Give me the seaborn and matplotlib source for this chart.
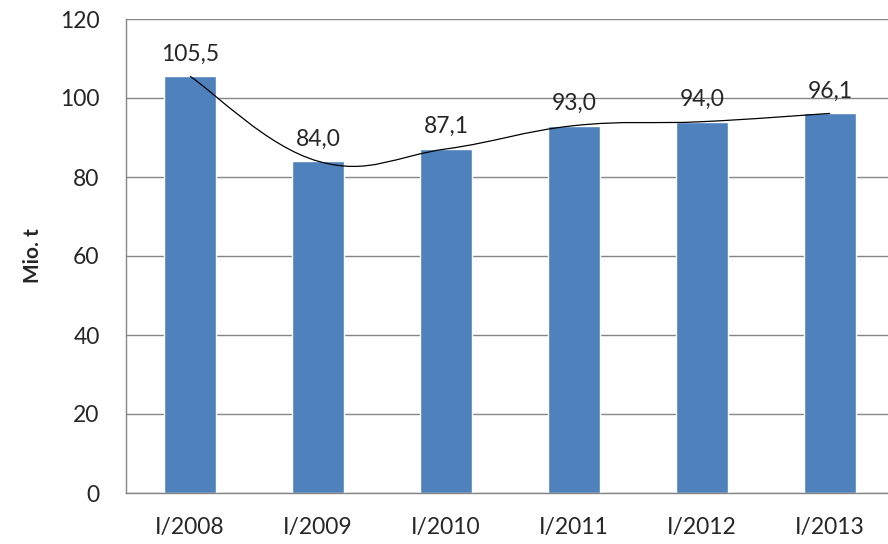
import numpy as np
import pandas as pd
import matplotlib
matplotlib.use("Agg")
import matplotlib.pyplot as plt
from matplotlib.path import Path
from matplotlib.patches import PathPatch
import seaborn as sns

# data
periods = ["I/2008", "I/2009", "I/2010", "I/2011", "I/2012", "I/2013"]
values = [105.5, 84.0, 87.1, 93.0, 94.0, 96.1]

df = pd.DataFrame({"period": periods, "value": values})

sns.set_style("white")
plt.rcParams["font.family"] = ["Lato", "DejaVu Sans"]

fig = plt.figure(figsize=(8.88, 5.44), dpi=100)
ax = fig.add_axes([126 / 888, 51 / 544, 768 / 888, 474 / 544])

sns.barplot(data=df, x="period", y="value", color="#4F81BD", saturation=1,
            width=0.4, ax=ax, zorder=2)

# smoothed line through bar tops (bezier, like excel "smoothed line")
xs = np.arange(len(values), dtype=float)
ys = np.array(values)
verts = [(xs[0], ys[0])]
codes = [Path.MOVETO]
t = 0.2
for i in range(len(xs) - 1):
    p0 = (xs[max(i - 1, 0)], ys[max(i - 1, 0)])
    p1 = (xs[i], ys[i])
    p2 = (xs[i + 1], ys[i + 1])
    p3 = (xs[min(i + 2, len(xs) - 1)], ys[min(i + 2, len(xs) - 1)])
    c1 = (p1[0] + (p2[0] - p0[0]) * t, p1[1] + (p2[1] - p0[1]) * t)
    c2 = (p2[0] - (p3[0] - p1[0]) * t, p2[1] - (p3[1] - p1[1]) * t)
    verts += [c1, c2, p2]
    codes += [Path.CURVE4] * 3
ax.add_patch(PathPatch(Path(verts, codes), fill=False, edgecolor="black",
                       linewidth=0.9, zorder=3))

ax.bar_label(ax.containers[0], labels=[f"{v:.1f}".replace(".", ",") for v in values],
             padding=8.5, fontsize=16.5, color="#262626")

ax.set_ylim(0, 120)
ax.set_yticks(range(0, 121, 20))
ax.set_xlim(-0.5, len(values) - 0.5)
ax.yaxis.grid(True, color="#868686", linewidth=1, zorder=0)
ax.set_axisbelow(True)
for s in ["top", "right"]:
    ax.spines[s].set_visible(False)
for s in ["left", "bottom"]:
    ax.spines[s].set_color("#868686")
    ax.spines[s].set_linewidth(1)
ax.tick_params(axis="both", length=0, labelsize=16.5, labelcolor="#262626")
ax.tick_params(axis="x", pad=17)
ax.tick_params(axis="y", pad=19)
ax.set_xlabel("")
ax.set_ylabel("Mio. t", fontsize=15, fontweight="bold", labelpad=12)

fig.savefig("out.png", dpi=100)
